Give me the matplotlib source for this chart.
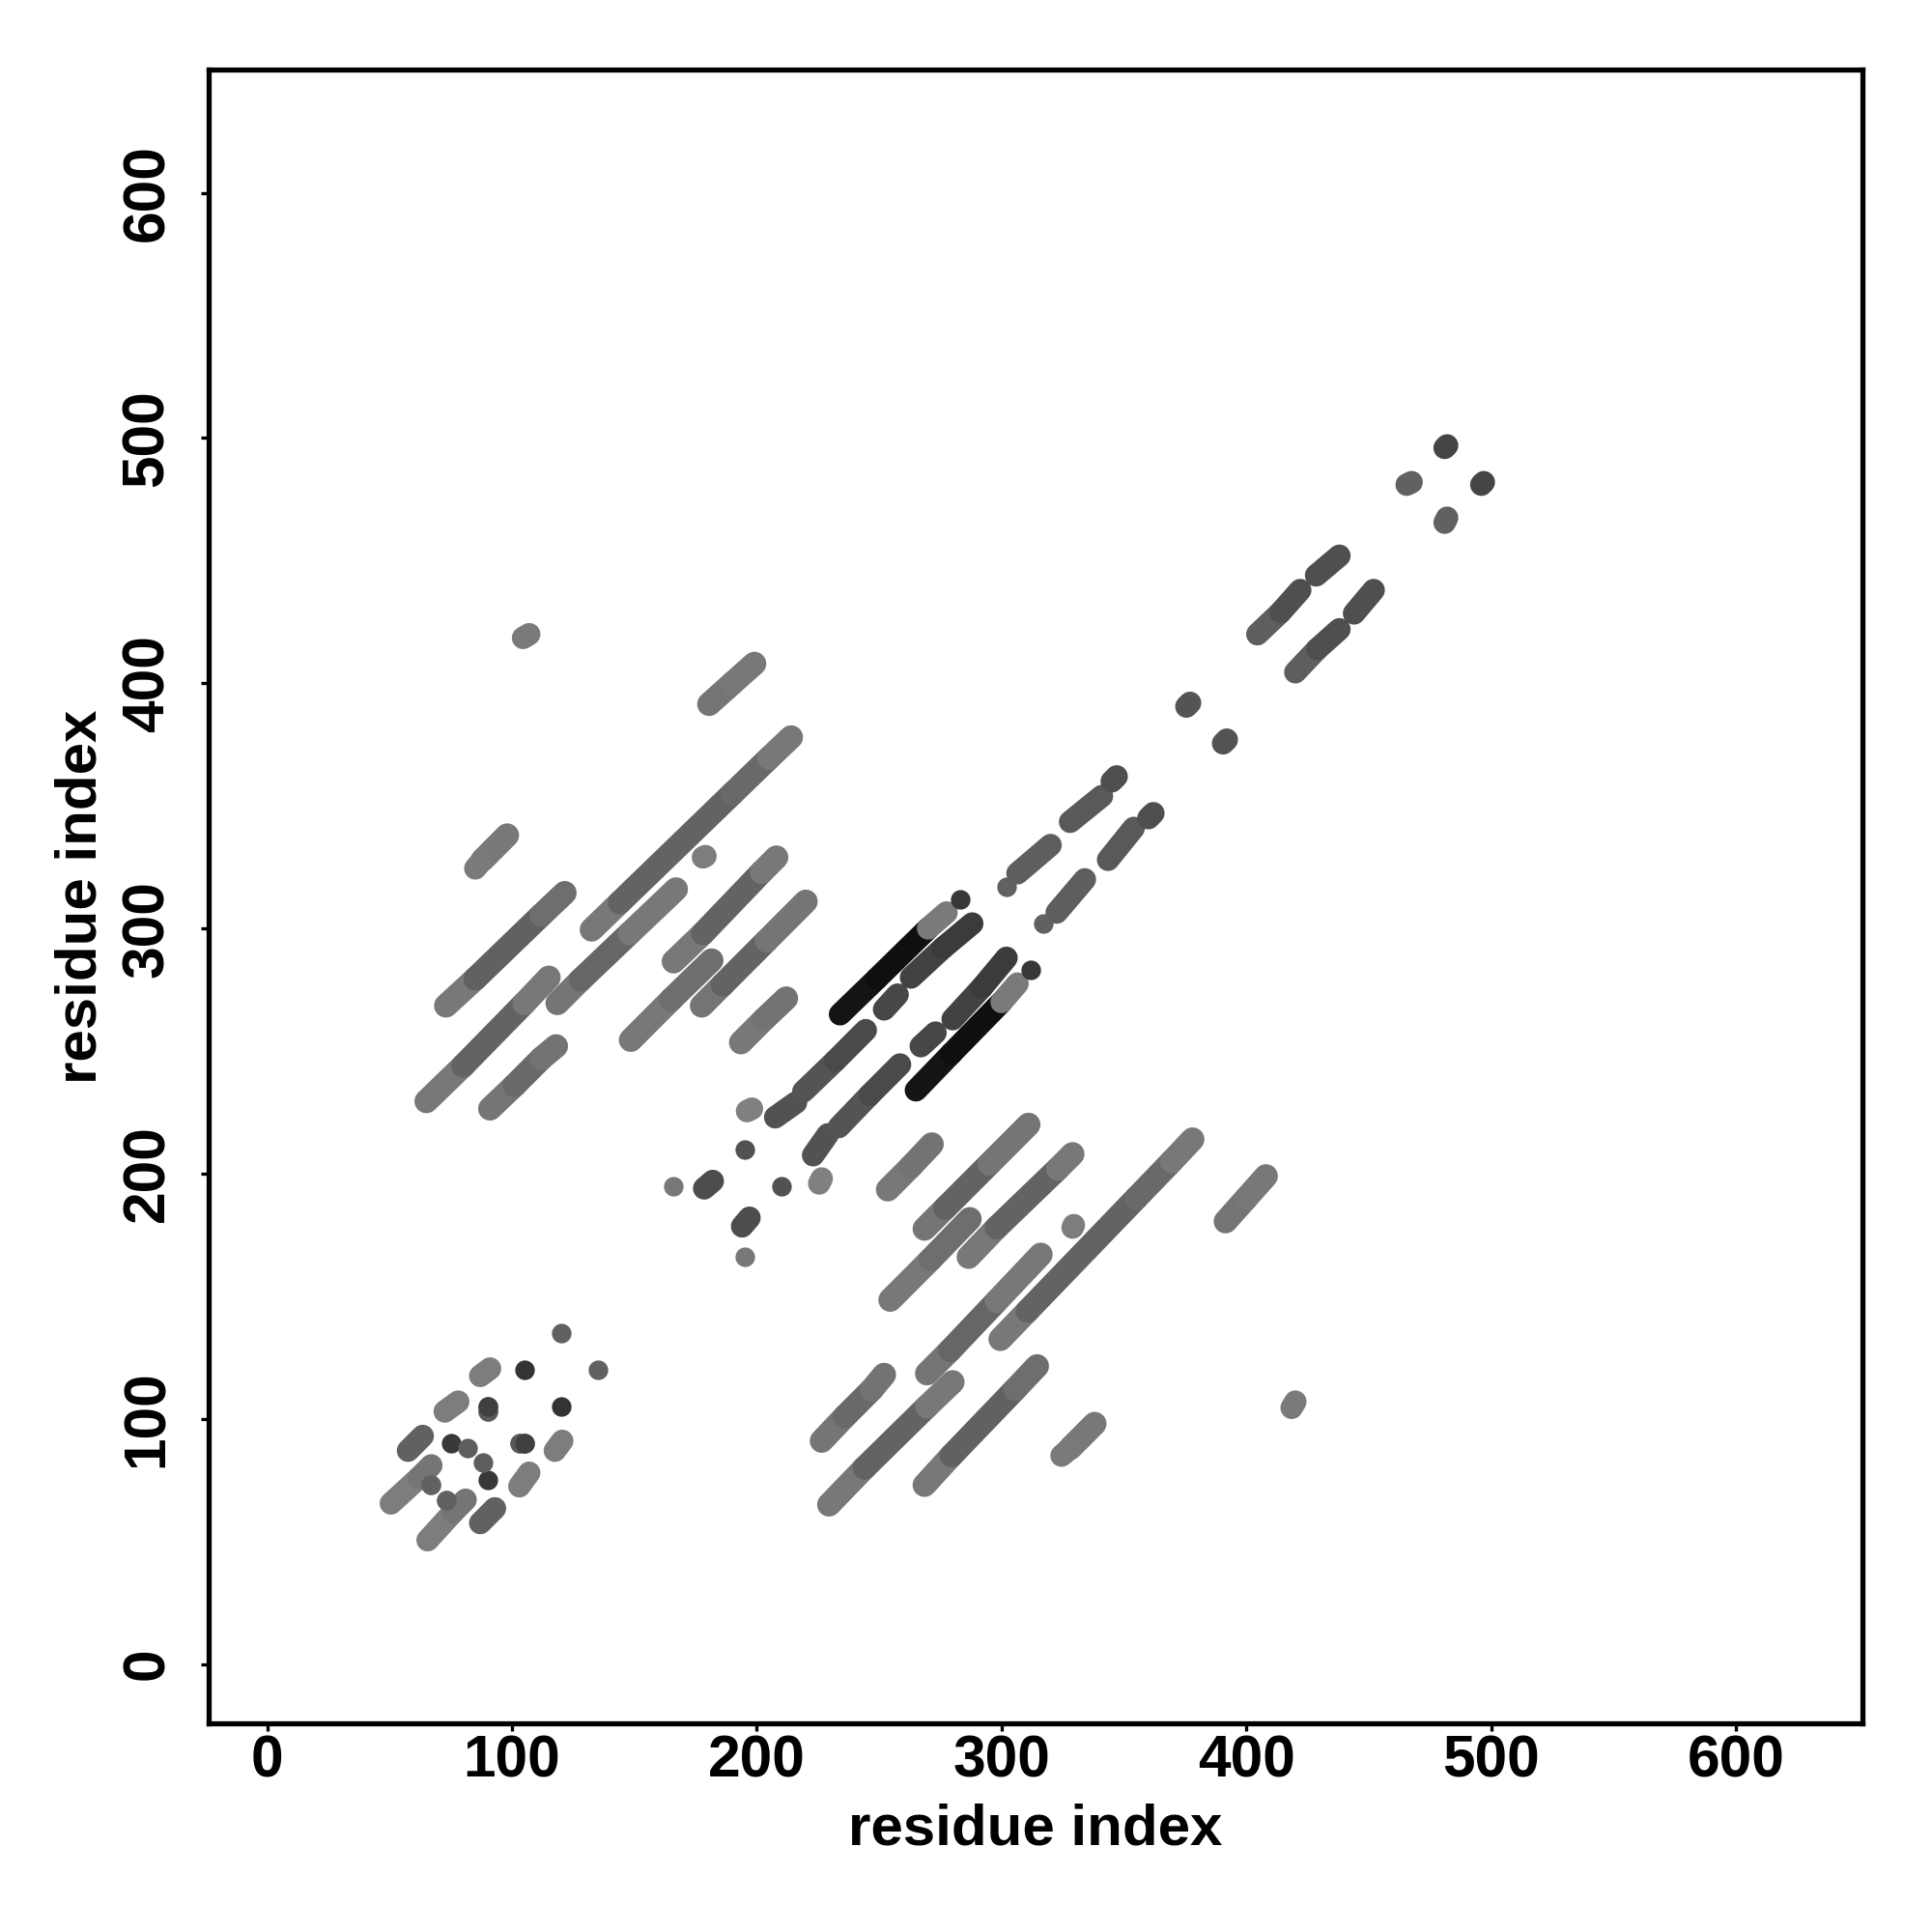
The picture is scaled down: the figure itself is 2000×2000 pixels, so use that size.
import matplotlib
matplotlib.use("Agg")
import matplotlib.pyplot as plt

plt.rcParams['font.family'] = ['Liberation Sans', 'DejaVu Sans']

tick_values = [0, 100, 200, 300, 400, 500, 600]
axis_label = "residue index"

# Long contact runs in the upper half of the symmetric map:
# residue positions along each run, and the grey level between consecutive positions
long_x = [
    [73, 85, 112, 121.5],
    [65, 80, 105, 115],
    [91, 101, 112, 118],
    [88, 98],
    [132.5, 144, 190, 205, 214],
    [118.5, 128, 148, 167],
    [166, 178, 202, 208],
    [177.5, 186, 204, 220],
    [148.5, 165, 181.5],
    [193.5, 203, 212],
    [180.5, 190, 199],
]
long_y = [
    [268.5, 279.5, 305.5, 314.5],
    [229.5, 244, 269.5, 280],
    [226.5, 236, 247, 252],
    [328, 338],
    [299.5, 310.6, 355, 369.5, 378],
    [269.5, 279, 298, 316],
    [286.5, 298, 323, 329],
    [268.5, 277, 295, 311],
    [254.5, 271, 287],
    [253.5, 263, 271.5],
    [391.5, 400, 408],
]
long_grey = [
    [.47, .38, .43],
    [.47, .39, .47],
    [.46, .41, .45],
    [.47],
    [.47, .39, .41, .47],
    [.46, .40, .47],
    [.47, .39, .47],
    [.46, .39, .46],
    [.47, .43],
    [.47, .45],
    [.46, .47],
]

# Shorter runs near the diagonal
short_x = [
    [50.5, 62, 67],
    [57.5, 63.5],
    [72.5, 78],
    [87, 91],
    [85, 88],
    [104.5, 107],
    [178, 179],
    [196, 198],
    [178.5, 182],
    [207.5, 216],
    [219, 232, 244.5],
    [234, 249, 270],
    [270, 277.5],
    [252, 257.5],
    [263, 276, 288],
    [306.5, 320],
    [328, 341],
    [345, 347],
    [404.5, 414, 422],
    [428.5, 438],
    [465.5, 467.5],
    [481, 482],
    [375.5, 377],
]
short_y = [
    [65.5, 76, 81],
    [87, 93],
    [103, 107],
    [117.5, 120.5],
    [324.5, 328],
    [418.5, 420],
    [329, 329.5],
    [225.5, 226.5],
    [194, 197],
    [223, 229],
    [233.5, 246, 258.5],
    [265, 279.5, 300],
    [300, 306.5],
    [267, 273],
    [280, 292, 302],
    [322.5, 334],
    [343.5, 354],
    [360, 362],
    [420, 429, 438],
    [444, 452],
    [481, 482],
    [496, 497],
    [390.5, 392],
]
short_grey = [
    [.49, .46],
    [.38],
    [.49],
    [.49],
    [.48],
    [.48],
    [.49],
    [.50],
    [.30],
    [.32],
    [.33, .29],
    [.08, .06],
    [.48],
    [.28],
    [.26, .23],
    [.37],
    [.35],
    [.31],
    [.37, .31],
    [.31],
    [.38],
    [.27],
    [.33],
]

# Single contacts in the upper half of the map
dot_x = [75, 82, 67, 90, 90, 105, 120, 166, 195, 283, 302, 73, 103, 105]
dot_y = [90, 88, 73, 103, 105, 120, 135, 195, 210, 312, 317, 67, 90, 90]
dot_grey = [.22, .37, .40, .35, .24, .20, .38, .47, .32, .22, .38, .38, .35, .25]

fig = plt.figure(figsize=(10, 10), dpi=200)
ax = fig.add_axes([215.5 / 2000, 1 - 1784 / 2000, (1927.5 - 215.5) / 2000, (1784 - 72) / 2000])


def draw_runs(xs, ys, greys, width):
    for px, py, gs in zip(xs, ys, greys):
        for i, g in enumerate(gs):
            c = (g, g, g)
            ax.plot(px[i:i + 2], py[i:i + 2], color=c, lw=width, solid_capstyle='round')
            ax.plot(py[i:i + 2], px[i:i + 2], color=c, lw=width, solid_capstyle='round')


draw_runs(long_x, long_y, long_grey, 8.9)
draw_runs(short_x, short_y, short_grey, 8.4)
for x, y, g in zip(dot_x, dot_y, dot_grey):
    ax.plot([x, y], [y, x], ls='none', marker='o', ms=7.3, mew=0, color=(g, g, g))

ax.set_xlim(-24.15, 651.5)
ax.set_ylim(-24.2, 650.3)
ax.set_xticks(tick_values)
ax.set_yticks(tick_values)
ax.tick_params(axis='both', length=3, width=1.2, labelsize=21.8)
ax.tick_params(axis='x', pad=1)
ax.tick_params(axis='y', pad=9)
for t in ax.get_xticklabels():
    t.set_fontweight('bold')
for t in ax.get_yticklabels():
    t.set_fontweight('bold')
    t.set_rotation(90)
    t.set_va('center')
for s in ax.spines.values():
    s.set_linewidth(1.9)
ax.set_xlabel(axis_label, fontsize=21.6, fontweight='bold', labelpad=5.2)
ax.set_ylabel(axis_label, fontsize=21.6, fontweight='bold', labelpad=5)
fig.savefig("out.png", dpi=200, facecolor='white')
